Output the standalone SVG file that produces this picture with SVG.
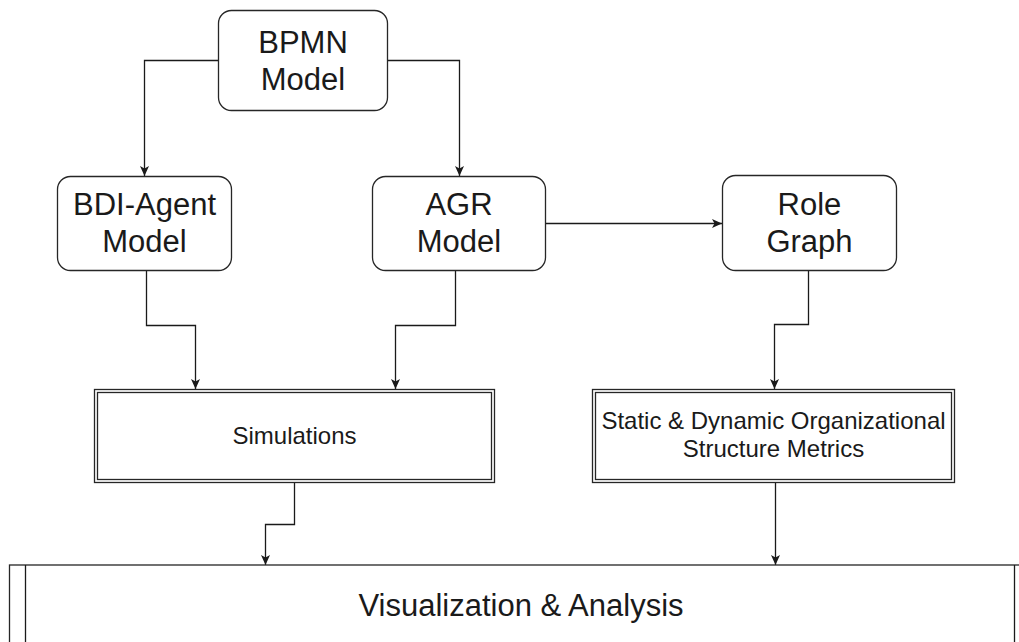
<svg xmlns="http://www.w3.org/2000/svg" width="1019" height="642" viewBox="0 0 1019 642">
<defs>
<style>
.box{fill:#fff;stroke:#262626;stroke-width:1.3}
.ln{fill:none;stroke:#1a1a1a;stroke-width:1.3}
.t31{font-family:"Liberation Sans",Arial,sans-serif;font-size:31px;fill:#1a1a1a;text-anchor:middle}
.t24{font-family:"Liberation Sans",Arial,sans-serif;font-size:24px;fill:#1a1a1a;text-anchor:middle}
</style>
<marker id="arr" markerWidth="12" markerHeight="12" viewBox="0 0 12 12" refX="11" refY="6" orient="auto" markerUnits="userSpaceOnUse">
<path d="M1,1.5 L11,6 L1,10.5 L3.5,6 Z" fill="#1a1a1a"/>
</marker>
</defs>
<rect width="1019" height="642" fill="#fff"/>
<g id="connectors">
<path class="ln" d="M218,60.5 H144.5 V176" marker-end="url(#arr)"/>
<path class="ln" d="M387,60.5 H459.5 V176" marker-end="url(#arr)"/>
<path class="ln" d="M545,223.5 H722" marker-end="url(#arr)"/>
<path class="ln" d="M146.5,270 V325.5 H195.5 V389" marker-end="url(#arr)"/>
<path class="ln" d="M455.5,270 V325.5 H395.5 V389" marker-end="url(#arr)"/>
<path class="ln" d="M808.5,270 V324.5 H774.5 V389" marker-end="url(#arr)"/>
<path class="ln" d="M294.5,482 V524.5 H265.5 V565" marker-end="url(#arr)"/>
<path class="ln" d="M775.5,482 V565" marker-end="url(#arr)"/>
</g>
<g id="bpmn">
<rect class="box" x="218.5" y="10.5" width="169" height="100" rx="13"/>
<text class="t31" x="303" y="53">BPMN</text>
<text class="t31" x="303" y="90">Model</text>
</g>
<g id="bdi">
<rect class="box" x="57.5" y="176.5" width="174" height="94" rx="13"/>
<text class="t31" x="144.5" y="215">BDI-Agent</text>
<text class="t31" x="144.5" y="252">Model</text>
</g>
<g id="agr">
<rect class="box" x="372.5" y="176.5" width="173" height="94" rx="13"/>
<text class="t31" x="459" y="215">AGR</text>
<text class="t31" x="459" y="252">Model</text>
</g>
<g id="role">
<rect class="box" x="722.5" y="175.5" width="174" height="95" rx="13"/>
<text class="t31" x="809.5" y="215">Role</text>
<text class="t31" x="809.5" y="252">Graph</text>
</g>
<g id="simulations">
<rect class="box" x="94.5" y="389.5" width="400" height="93"/>
<rect class="box" x="97.5" y="392.5" width="394" height="87"/>
<text class="t24" x="294.5" y="444">Simulations</text>
</g>
<g id="metrics">
<rect class="box" x="592.5" y="389.5" width="362" height="93"/>
<rect class="box" x="595.5" y="392.5" width="356" height="87"/>
<text class="t24" x="773.5" y="429">Static &amp; Dynamic Organizational</text>
<text class="t24" x="773.5" y="457">Structure Metrics</text>
</g>
<g id="visualization">
<rect class="box" x="9.5" y="565" width="1021" height="100"/>
<line class="ln" x1="25.5" y1="565" x2="25.5" y2="665" stroke="#555"/>
<line class="ln" x1="1014.5" y1="565" x2="1014.5" y2="665"/>
<text class="t31" x="521" y="616">Visualization &amp; Analysis</text>
</g>
</svg>
